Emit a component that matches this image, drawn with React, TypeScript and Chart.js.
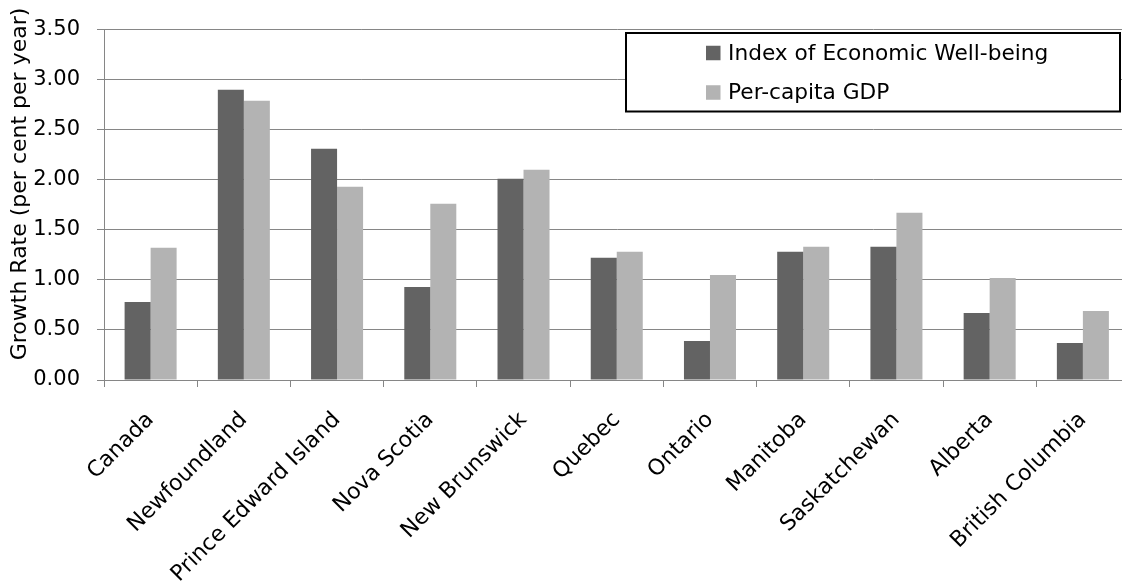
import React, { useEffect, useRef } from 'react';
import { Chart, registerables } from 'chart.js';

Chart.register(...registerables);

const categories = [
  'Canada',
  'Newfoundland',
  'Prince Edward Island',
  'Nova Scotia',
  'New Brunswick',
  'Quebec',
  'Ontario',
  'Manitoba',
  'Saskatchewan',
  'Alberta',
  'British Columbia',
];

const wellBeingGrowth = [0.78, 2.9, 2.31, 0.93, 2.01, 1.22, 0.39, 1.28, 1.33, 0.67, 0.37];
const gdpGrowth = [1.32, 2.79, 1.93, 1.76, 2.1, 1.28, 1.05, 1.33, 1.67, 1.02, 0.69];

const seriesNames = ['Index of Economic Well-being', 'Per-capita GDP'];
const seriesColors = ['#636363', '#b3b3b3'];

const yMin = 0;
const yMax = 3.5;
const yStep = 0.5;
const yTitle = 'Growth Rate (per cent per year)';

const FONT = '"DejaVu Sans", sans-serif';
const GRID = '#868686';

const boxLegend = {
  id: 'boxLegend',
  afterDatasetsDraw(chart: any) {
    const ctx = chart.ctx;
    ctx.save();
    const x0 = 626;
    const y0 = 33;
    const x1 = 1120;
    const y1 = 111.5;
    ctx.fillStyle = '#ffffff';
    ctx.fillRect(x0, y0, x1 - x0, y1 - y0);
    ctx.strokeStyle = '#000000';
    ctx.lineWidth = 2;
    ctx.strokeRect(x0, y0, x1 - x0, y1 - y0);
    const rows = [53, 92.5];
    chart.data.datasets.forEach((ds: any, i: number) => {
      const cy = rows[i];
      ctx.fillStyle = ds.backgroundColor;
      ctx.fillRect(706, cy - 7.25, 14.5, 14.5);
      ctx.fillStyle = '#000000';
      ctx.font = '21.7px ' + FONT;
      ctx.textBaseline = 'middle';
      ctx.textAlign = 'left';
      ctx.fillText(ds.label, 728, cy + 1);
    });
    ctx.restore();
  },
};

const yAxisTitle = {
  id: 'yAxisTitle',
  afterDraw(chart: any) {
    const ctx = chart.ctx;
    ctx.save();
    ctx.translate(20.5, 184);
    ctx.rotate(-Math.PI / 2);
    ctx.fillStyle = '#000000';
    ctx.font = '22px ' + FONT;
    ctx.textAlign = 'center';
    ctx.textBaseline = 'middle';
    ctx.fillText(yTitle, 0, 0);
    ctx.restore();
  },
};

export default function App() {
  const canvasRef = useRef<HTMLCanvasElement | null>(null);

  useEffect(() => {
    if (!canvasRef.current) return;
    const chart = new Chart(canvasRef.current, {
      type: 'bar',
      data: {
        labels: categories,
        datasets: [
          {
            label: seriesNames[0],
            data: wellBeingGrowth,
            backgroundColor: seriesColors[0],
            borderWidth: 0,
          },
          {
            label: seriesNames[1],
            data: gdpGrowth,
            backgroundColor: seriesColors[1],
            borderWidth: 0,
          },
        ],
      },
      options: {
        animation: false,
        responsive: true,
        maintainAspectRatio: false,
        datasets: {
          bar: {
            categoryPercentage: 0.558,
            barPercentage: 1,
          },
        },
        layout: {
          padding: { left: 0, top: 28, right: 10.5, bottom: 0 },
        },
        plugins: {
          legend: { display: false },
          tooltip: { enabled: false },
          title: { display: false },
        },
        scales: {
          x: {
            offset: true,
            grid: {
              display: true,
              drawOnChartArea: false,
              drawTicks: true,
              tickLength: 7,
              color: GRID,
              offset: true,
            },
            border: { display: true, color: GRID, width: 1 },
            ticks: {
              minRotation: 45,
              maxRotation: 45,
              autoSkip: false,
              padding: 20,
              color: '#000000',
              font: { family: FONT, size: 22 },
            },
            afterFit(scale: any) {
              scale.height = 204;
            },
          },
          y: {
            min: yMin,
            max: yMax,
            grid: {
              color: GRID,
              tickLength: 7,
              drawTicks: true,
            },
            border: { display: true, color: GRID, width: 1 },
            ticks: {
              stepSize: yStep,
              padding: 17,
              color: '#000000',
              font: { family: FONT, size: 21 },
              callback: (v: any) => Number(v).toFixed(2),
            },
            title: { display: false, text: yTitle },
            afterFit(scale: any) {
              scale.width = 104;
            },
          },
        },
      },
      plugins: [boxLegend, yAxisTitle],
    });
    return () => chart.destroy();
  }, []);

  return (
    <div
      style={{
        position: 'fixed',
        left: 0,
        top: 0,
        width: 1122,
        height: 584,
        overflow: 'hidden',
        background: '#ffffff',
      }}
    >
      <div style={{ position: 'absolute', left: 0, top: 0, width: 1140, height: 584 }}>
        <canvas ref={canvasRef} />
      </div>
    </div>
  );
}
